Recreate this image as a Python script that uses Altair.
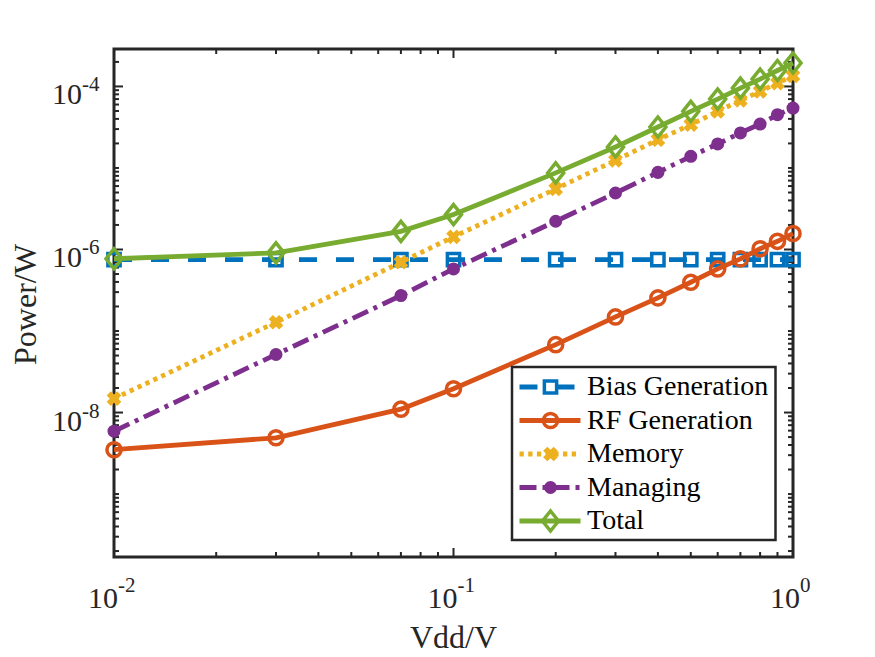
import altair as alt
import pandas as pd

# ---------------- data ----------------
vdd = [0.01, 0.03, 0.07, 0.1, 0.2, 0.3, 0.4, 0.5, 0.6, 0.7, 0.8, 0.9, 1.0]
bias_generation = [7.5e-7, 7.5e-7, 7.5e-7, 7.5e-7, 7.5e-7, 7.5e-7, 7.5e-7,
                   7.5e-7, 7.5e-7, 7.5e-7, 7.5e-7, 7.5e-7, 7.5e-7]
rf_generation = [3.5e-9, 4.9e-9, 1.1e-8, 1.96e-8, 6.8e-8, 1.49e-7, 2.55e-7,
                 3.96e-7, 5.78e-7, 7.67e-7, 1.02e-6, 1.26e-6, 1.57e-6]
memory = [1.48e-8, 1.28e-7, 6.97e-7, 1.43e-6, 5.53e-6, 1.24e-5, 2.22e-5,
          3.4e-5, 4.95e-5, 6.74e-5, 8.7e-5, 1.1e-4, 1.35e-4]
managing = [5.9e-9, 5.15e-8, 2.72e-7, 5.78e-7, 2.22e-6, 4.93e-6, 8.83e-6,
            1.39e-5, 1.97e-5, 2.69e-5, 3.46e-5, 4.5e-5, 5.43e-5]
total = [7.7e-7, 9.1e-7, 1.67e-6, 2.68e-6, 8.7e-6, 1.81e-5, 3.18e-5,
         4.95e-5, 7.0e-5, 9.55e-5, 1.23e-4, 1.57e-4, 1.94e-4]

series_names = ["Bias Generation", "RF Generation", "Memory", "Managing", "Total"]
series_values = [bias_generation, rf_generation, memory, managing, total]

x_label_values = [0.01, 0.1, 1.0]
x_label_exps = ["-2", "-1", "0"]
y_label_values = [1e-8, 1e-6, 1e-4]
y_label_exps = ["-8", "-6", "-4"]
x_title = "Vdd/V"
y_title = "Power/W"

# ---------------- styling ----------------
W, H = 679, 508
FONT = "Liberation Serif"
AX = "#262626"
colors = ["#0072BD", "#D95319", "#EDB120", "#7E2F8E", "#77AC30"]
dashes = [[18, 19], None, [4.3, 4.4], [17, 6, 4, 6], None]
LW = 4.8
tall_diamond = "M0,-1L0.8,0L0,1L-0.8,0Z"
markers = [
    dict(shape="square", filled=False, size=150, strokeWidth=3.5),
    dict(shape="circle", filled=False, size=200, strokeWidth=3.5),
    dict(shape="cross", filled=True, size=220, strokeWidth=1, angle=45),
    dict(shape="circle", filled=True, size=170, strokeWidth=0),
    dict(shape=tall_diamond, filled=False, size=400, strokeWidth=3.5),
]

xs = alt.Scale(type="log", domain=[0.01, 1.0], nice=False)
ys = alt.Scale(type="log", domain=[1.69e-10, 2.88e-4], nice=False)

layers = []

# ---------------- inward ticks on all four sides ----------------
x_major = [0.01, 0.1, 1.0]
x_minor = [m * d for d in (0.01, 0.1) for m in range(2, 10)]
y_major = list(y_label_values)
y_minor = [m * 10.0 ** k for k in range(-10, -3) for m in range(1, 10)
           if 1.69e-10 <= m * 10.0 ** k <= 2.88e-4 and not (m == 1 and 10.0 ** k in y_major)]


def xticks(vals, length):
    df = pd.DataFrame({"t": vals})
    b = alt.Chart(df).mark_rule(color=AX, strokeWidth=2)
    enc = alt.X("t:Q", scale=xs, axis=None)
    return [b.encode(x=enc, y=alt.value(H), y2=alt.value(H - length)),
            b.encode(x=enc, y=alt.value(0), y2=alt.value(length))]


def yticks(vals, length):
    df = pd.DataFrame({"t": vals})
    b = alt.Chart(df).mark_rule(color=AX, strokeWidth=2)
    enc = alt.Y("t:Q", scale=ys, axis=None)
    return [b.encode(y=enc, x=alt.value(0), x2=alt.value(length)),
            b.encode(y=enc, x=alt.value(W), x2=alt.value(W - length))]


layers += xticks(x_major, 9) + xticks(x_minor, 5)
layers += yticks(y_major, 9) + yticks(y_minor, 5)

# ---------------- data series ----------------
for name, vals, col, dash, mk in zip(series_names, series_values, colors, dashes, markers):
    df = pd.DataFrame({"Vdd": vdd, "Power": vals, "Series": name})
    base = alt.Chart(df).encode(
        x=alt.X("Vdd:Q", scale=xs, axis=None),
        y=alt.Y("Power:Q", scale=ys, axis=None),
    )
    lkw = dict(color=col, strokeWidth=LW)
    if dash:
        lkw["strokeDash"] = dash
    layers.append(base.mark_line(**lkw))
    layers.append(base.mark_point(color=col, opacity=1, **mk))

# ---------------- legend ----------------
LX0, LX1, LY0, LY1 = 398, 661.5, 318, 491
leg_box = alt.Chart(pd.DataFrame({"a": [0]})).mark_rect(
    fill="white", stroke=AX, strokeWidth=2.5
).encode(x=alt.value(LX0), x2=alt.value(LX1), y=alt.value(LY0), y2=alt.value(LY1))
layers.append(leg_box)
row0, row_gap = 338, 33.5
for i, (name, col, dash, mk) in enumerate(zip(series_names, colors, dashes, markers)):
    ry = row0 + row_gap * i
    d = alt.Chart(pd.DataFrame({"Series": [name]}))
    rkw = dict(color=col, strokeWidth=LW)
    if dash:
        rkw["strokeDash"] = dash
    layers.append(d.mark_rule(**rkw).encode(
        x=alt.value(405.5), x2=alt.value(466.5), y=alt.value(ry)))
    layers.append(d.mark_point(color=col, opacity=1, **mk).encode(
        x=alt.value(436.5), y=alt.value(ry)))
    layers.append(d.mark_text(font=FONT, fontSize=28, align="left", baseline="middle",
                              color="black").encode(
        text="Series:N", x=alt.value(473), y=alt.value(ry)))

# ---------------- tick labels ----------------
ylab = pd.DataFrame({"v": y_label_values, "base": ["10"] * len(y_label_values),
                     "exp": y_label_exps})
yl = alt.Chart(ylab).encode(y=alt.Y("v:Q", scale=ys, axis=None))
layers.append(yl.mark_text(font=FONT, fontSize=30, align="right", baseline="alphabetic",
                           dy=18, color=AX).encode(text="base:N", x=alt.value(-32)))
layers.append(yl.mark_text(font=FONT, fontSize=21, align="left", baseline="alphabetic",
                           dy=5, color=AX).encode(text="exp:N", x=alt.value(-32)))

for v, e in zip(x_label_values, x_label_exps):
    off = 7 if e == "0" else 4
    xd = alt.Chart(pd.DataFrame({"v": [v], "base": ["10"], "exp": [e]})).encode(
        x=alt.X("v:Q", scale=xs, axis=None))
    layers.append(xd.mark_text(font=FONT, fontSize=30, align="right", baseline="alphabetic",
                               dx=off, color=AX).encode(text="base:N", y=alt.value(559)))
    layers.append(xd.mark_text(font=FONT, fontSize=21, align="left", baseline="alphabetic",
                               dx=off, color=AX).encode(text="exp:N", y=alt.value(543)))

# ---------------- axis titles ----------------
layers.append(alt.Chart(pd.DataFrame({"t": [x_title]})).mark_text(
    font=FONT, fontSize=32, align="center", baseline="alphabetic", color=AX
).encode(text="t:N", x=alt.value(339.5), y=alt.value(599)))
layers.append(alt.Chart(pd.DataFrame({"t": [y_title]})).mark_text(
    font=FONT, fontSize=32, align="center", baseline="alphabetic", angle=270, color=AX
).encode(text="t:N", x=alt.value(-78.5), y=alt.value(255.5)))

chart = alt.layer(*layers).properties(
    width=W, height=H,
    autosize=alt.AutoSizeParams(type="none"),
    padding={"left": 114, "top": 49, "right": 82, "bottom": 100},
    background="white",
).configure_view(stroke=AX, strokeWidth=3)

chart.save("out.html", embed_options={"renderer": "svg", "actions": False})
